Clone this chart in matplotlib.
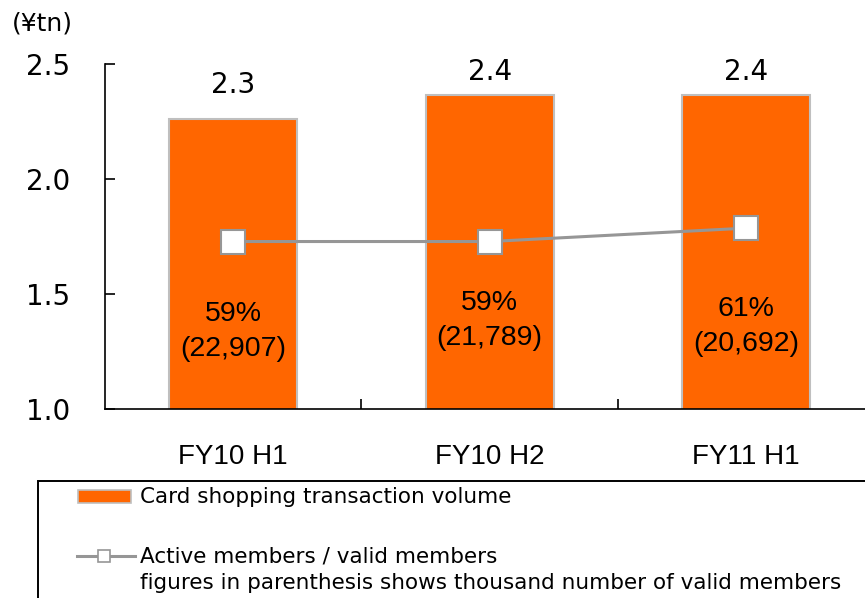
import matplotlib
matplotlib.use("Agg")
import matplotlib.pyplot as plt
from matplotlib.patches import Rectangle
from matplotlib.lines import Line2D

categories = ["FY10 H1", "FY10 H2", "FY11 H1"]
volume = [2.26, 2.365, 2.365]          # ¥tn (bar heights)
volume_labels = ["2.3", "2.4", "2.4"]
active_ratio = [59, 59, 61]             # %
valid_members = [22907, 21789, 20692]   # thousand
yticks = [1.0, 1.5, 2.0, 2.5]

# positions (not data)
top_label_y = [2.41, 2.465, 2.465]
inner_label_y = [1.336, 1.386, 1.360]

ORANGE = "#FF6600"
GRAY = "#969696"
FONT = ["DejaVu Sans"]
ARIAL = ["Liberation Sans", "DejaVu Sans"]

W, H = 865, 598
fig = plt.figure(figsize=(W/100, H/100), dpi=100)
ax = fig.add_axes([105/W, 1-409/H, (874.5-105)/W, 345/H])
x = list(range(len(categories)))
ax.bar(x, volume, width=0.5, color=ORANGE, edgecolor="#BFBFBF", linewidth=1.5, zorder=2)
ax.set_xlim(-0.5, 2.5)
ax.set_ylim(1.0, 2.5)
ax.set_yticks(yticks)
ax.set_yticklabels([f"{v:.1f}" for v in yticks], fontsize=20, family=FONT)
ax.tick_params(axis="y", direction="in", length=7, width=1.2, pad=25)
ax.set_xticks([0.5, 1.5])
ax.set_xticklabels([])
ax.tick_params(axis="x", which="major", direction="in", length=7, width=1.2)
ax.set_xticks(x, minor=True)
ax.set_xticklabels(categories, minor=True, fontsize=20, family=ARIAL)
ax.tick_params(axis="x", which="minor", length=0, pad=25)
for s in ["top", "right"]:
    ax.spines[s].set_visible(False)
for s in ["left", "bottom"]:
    ax.spines[s].set_linewidth(1.2)

for xi, lab, ly in zip(x, volume_labels, top_label_y):
    ax.text(xi, ly, lab, ha="center", va="center", fontsize=20, family=FONT)
for xi, p, n, ly in zip(x, active_ratio, valid_members, inner_label_y):
    ax.text(xi, ly, f"{p}%\n({n:,})", ha="center", va="center", fontsize=20.5,
            family=ARIAL, linespacing=1.45, zorder=5)

ax2 = ax.twinx()
ax2.set_ylim(34, 85.5)
ax2.plot(x, active_ratio, color=GRAY, linewidth=2.2, marker="s", markersize=17.5,
         markerfacecolor="white", markeredgecolor=GRAY, markeredgewidth=1.5, zorder=3)
ax2.axis("off")

fig.text(12/W, 1-24/H, "(¥tn)", ha="left", va="center", fontsize=18, family=FONT)

# legend box
fig.patches.append(Rectangle((38/W, -0.05), 1.2, 1-481/H+0.05, transform=fig.transFigure,
                             facecolor="none", edgecolor="black", linewidth=1.4, clip_on=False))
fig.patches.append(Rectangle((78/W, 1-503/H), 53/W, 13/H, transform=fig.transFigure,
                             facecolor=ORANGE, edgecolor="#BFBFBF", linewidth=1.2))
fig.lines.append(Line2D([77/W, 135/W], [1-556/H, 1-556/H], transform=fig.transFigure,
                        color=GRAY, linewidth=2.2))
fig.lines.append(Line2D([104/W], [1-556/H], transform=fig.transFigure, marker="s",
                        markersize=8.5, markerfacecolor="white", markeredgecolor=GRAY,
                        markeredgewidth=1.2, color=GRAY))
fig.text(140/W, 1-497/H, "Card shopping transaction volume", ha="left", va="center",
         fontsize=15.5, family=FONT)
fig.text(140/W, 1-556/H, "Active members / valid members", ha="left", va="center",
         fontsize=15.5, family=FONT)
fig.text(140/W, 1-583/H, "figures in parenthesis shows thousand number of valid members",
         ha="left", va="center", fontsize=15.5, family=FONT)

fig.savefig("out.png", dpi=100)
